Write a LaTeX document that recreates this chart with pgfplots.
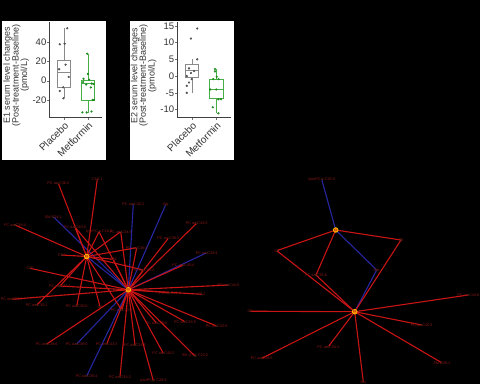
\documentclass[border=0pt]{standalone}
\usepackage{pgfplots}
\pgfplotsset{compat=1.18}
\usepgfplotslibrary{statistics}
\usepackage{fontspec}
\setmainfont{Liberation Sans}
\definecolor{pgrey}{HTML}{505050}
\definecolor{boxgrey}{HTML}{8A8A8A}
\definecolor{mgreen}{HTML}{1E8C1E}
\definecolor{boxgreen}{HTML}{45AE45}
\definecolor{edgered}{HTML}{C81414}
\definecolor{edgeblue}{HTML}{2626A0}
\definecolor{lab}{HTML}{8C1818}
\newcommand{\edge}[5]{\addplot[#1, line width=1.1pt, forget plot] coordinates {(#2,#3) (#4,#5)};}
\pgfplotsset{
  boxax/.style={
    anchor=south west, scale only axis, height=95.5pt,
    xmin=0.4, xmax=2.6,
    axis x line*=bottom, axis y line*=left,
    axis line style={black!75, line width=0.5pt, -},
    xtick={1,2}, xticklabels={Placebo,Metformin},
    tick align=outside, major tick length=2pt,
    tick style={black!55, line width=0.4pt},
    xticklabel style={rotate=45, anchor=north east, font=\fontsize{10}{10}\selectfont, text=black!80, inner sep=1pt},
    yticklabel style={font=\fontsize{9.5}{9.5}\selectfont, text=black!80, inner sep=1pt},
    /pgf/number format/assume math mode=true,
    ylabel style={align=center, font=\fontsize{9}{8.6}\selectfont, text=black!80, at={(axis description cs:-0.63,0.44)}, anchor=center},
    boxplot/draw direction=y,
    clip=false,
  },
  netlab/.style={only marks, mark=*, mark size=0.6pt, draw=none, fill=yellow!60!white,
    nodes near coords, point meta=explicit symbolic,
    nodes near coords style={anchor=center, font=\fontsize{3.8}{3.8}\selectfont, text=lab, inner sep=0pt}},
  hub/.style={only marks, mark=*, mark size=2.4pt, fill=orange, draw=yellow!80!orange, line width=0.5pt,
    nodes near coords, point meta=explicit symbolic,
    nodes near coords style={anchor=center, font=\fontsize{3}{3}\selectfont, text=lab, inner sep=0pt}},
}
\begin{document}
\begin{tikzpicture}
\path[use as bounding box] (0,0) rectangle (480pt,-384pt);
\fill[black] (0,0) rectangle (480pt,-384pt);
\fill[white] (2pt,-21pt) rectangle (106pt,-160pt);
\fill[white] (130pt,-21pt) rectangle (234pt,-160pt);

% ---------- E1 ----------
\begin{axis}[boxax, at={(49.5pt,-117.5pt)}, width=52.8pt,
  ymin=-38.3, ymax=61.1, ytick={-20,0,20,40},
  ylabel={E1 serum level changes\\(Post-treatment-Baseline)\\(pmol/L)}]
\addplot[draw=boxgrey, line width=0.5pt, boxplot prepared={median=8.7, upper quartile=21.2, lower quartile=-6.9, upper whisker=54.6, lower whisker=-18.3, draw position=1, box extend=0.55, whisker extend=0}] coordinates {};
\addplot[draw=boxgreen, line width=0.5pt, boxplot prepared={median=-2.8, upper quartile=0.2, lower quartile=-20, upper whisker=28.1, lower whisker=-33.2, draw position=2, box extend=0.55, whisker extend=0}] coordinates {};
\addplot[only marks, mark=*, mark size=0.9pt, pgrey] coordinates {
(1.14,54.6) (0.83,37.9) (1.03,38.5) (0.80,11.9) (1.07,16.7) (1.20,3.9) (0.97,-6.9) (0.83,-10.7) (0.98,-18.3)};
\addplot[only marks, mark=*, mark size=0.9pt, mgreen] coordinates {
(1.97,28.1) (2.00,7.0) (1.82,2.0) (2.05,1.0) (1.80,-1.5) (2.16,-3.0) (2.24,-3.5) (1.93,-4.0) (2.12,-7.0) (2.20,-20) (2.25,-20) (1.77,-33) (1.95,-33) (2.15,-32)};
\end{axis}

% ---------- E2 ----------
\begin{axis}[boxax, at={(177.3pt,-117.7pt)}, width=53.5pt,
  ymin=-12.41, ymax=16.07, ytick={-10,-5,0,5,10,15},
  ylabel={E2 serum level changes\\(Post-treatment-Baseline)\\(pmol/L)}]
\addplot[draw=boxgrey, line width=0.5pt, boxplot prepared={median=1.6, upper quartile=3.6, lower quartile=-0.2, upper whisker=5.0, lower whisker=-5.0, draw position=1, box extend=0.55, whisker extend=0}] coordinates {};
\addplot[draw=boxgreen, line width=0.5pt, boxplot prepared={median=-4.0, upper quartile=-0.8, lower quartile=-6.6, upper whisker=2.1, lower whisker=-11.1, draw position=2, box extend=0.55, whisker extend=0}] coordinates {};
\addplot[only marks, mark=*, mark size=0.9pt, pgrey] coordinates {
(1.22,14.2) (0.96,11.2) (1.22,5.0) (0.88,2.3) (1.09,1.5) (0.96,0.9) (0.79,0) (0.99,-0.9) (0.88,-1.9) (0.79,-2.9) (0.79,-5.0)};
\addplot[only marks, mark=*, mark size=0.9pt, mgreen] coordinates {
(1.95,2.1) (1.95,1.4) (2.02,-0.2) (1.88,-0.9) (2.10,-0.9) (2.00,-4.0) (1.75,-4.0) (2.09,-6.9) (2.20,-6.9) (1.86,-9.3) (2.09,-11.1)};
\end{axis}

% ---------- networks ----------
\begin{axis}[at={(0pt,0pt)}, anchor=north west, scale only axis, width=480pt, height=384pt,
  xmin=0, xmax=480, ymin=0, ymax=384, y dir=reverse, hide axis, clip=false]
% left network, hub A (86.7,256.5), hub B (128.3,289.8)
\edge{edgeblue}{53.3}{216.7}{128.3}{289.8}
\edge{edgeblue}{133.3}{204}{128.3}{289.8}
\edge{edgeblue}{165.7}{204.7}{128.3}{289.8}
\edge{edgeblue}{206.7}{252.7}{128.3}{289.8}
\edge{edgeblue}{76.7}{344}{128.3}{289.8}
\edge{edgeblue}{86.7}{376}{128.3}{289.8}
\edge{edgeblue}{86.7}{256.5}{128.3}{289.8}
\edge{edgered}{58.3}{183.3}{86.7}{256.5}
\edge{edgered}{97.3}{179.3}{86.7}{256.5}
\edge{edgered}{15}{225}{86.7}{256.5}
\edge{edgered}{75}{227.3}{86.7}{256.5}
\edge{edgered}{75}{227.3}{128.3}{289.8}
\edge{edgered}{99}{231.7}{86.7}{256.5}
\edge{edgered}{99}{231.7}{128.3}{289.8}
\edge{edgered}{120.7}{231.7}{86.7}{256.5}
\edge{edgered}{120.7}{231.7}{128.3}{289.8}
\edge{edgered}{196.7}{223.3}{128.3}{289.8}
\edge{edgered}{168.3}{238.3}{128.3}{289.8}
\edge{edgered}{136.7}{247.7}{86.7}{256.5}
\edge{edgered}{136.7}{247.7}{128.3}{289.8}
\edge{edgered}{183.3}{265}{128.3}{289.8}
\edge{edgered}{113.3}{259.3}{86.7}{256.5}
\edge{edgered}{113.3}{259.3}{128.3}{289.8}
\edge{edgered}{61.7}{255}{86.7}{256.5}
\edge{edgered}{30}{268.3}{128.3}{289.8}
\edge{edgered}{143.3}{270}{86.7}{256.5}
\edge{edgered}{143.3}{270}{128.3}{289.8}
\edge{edgered}{228.3}{285}{128.3}{289.8}
\edge{edgered}{201.7}{294.3}{128.3}{289.8}
\edge{edgered}{170}{292.7}{128.3}{289.8}
\edge{edgered}{60}{286}{86.7}{256.5}
\edge{edgered}{60}{286}{128.3}{289.8}
\edge{edgered}{11.7}{299.3}{128.3}{289.8}
\edge{edgered}{36.7}{305}{86.7}{256.5}
\edge{edgered}{76.7}{306}{86.7}{256.5}
\edge{edgered}{100}{306.7}{86.7}{256.5}
\edge{edgered}{121.7}{310}{86.7}{256.5}
\edge{edgered}{121.7}{310}{128.3}{289.8}
\edge{edgered}{156.7}{323.3}{128.3}{289.8}
\edge{edgered}{185}{321.7}{128.3}{289.8}
\edge{edgered}{216.7}{326}{128.3}{289.8}
\edge{edgered}{46.7}{344}{128.3}{289.8}
\edge{edgered}{106.7}{344}{128.3}{289.8}
\edge{edgered}{135}{345}{128.3}{289.8}
\edge{edgered}{163.3}{353.3}{128.3}{289.8}
\edge{edgered}{195}{356}{128.3}{289.8}
\edge{edgered}{120}{376.7}{128.3}{289.8}
\edge{edgered}{153.3}{380.7}{128.3}{289.8}
% right network, hub C (335.7,230), hub D (354.7,311.7)
\edge{edgeblue}{321.7}{179.3}{335.7}{230}
\edge{edgeblue}{376.7}{270}{335.7}{230}
\edge{edgeblue}{376.7}{270}{354.7}{311.7}
\edge{edgered}{401}{240}{335.7}{230}
\edge{edgered}{401}{240}{354.7}{311.7}
\edge{edgered}{276.7}{250.7}{335.7}{230}
\edge{edgered}{276.7}{250.7}{354.7}{311.7}
\edge{edgered}{316}{275}{335.7}{230}
\edge{edgered}{316}{275}{354.7}{311.7}
\edge{edgered}{468.3}{295}{354.7}{311.7}
\edge{edgered}{250}{311.2}{354.7}{311.7}
\edge{edgered}{421.7}{325}{354.7}{311.7}
\edge{edgered}{328.3}{346.7}{354.7}{311.7}
\edge{edgered}{261.7}{358.3}{354.7}{311.7}
\edge{edgered}{441.7}{362.7}{354.7}{311.7}
\edge{edgered}{363.3}{381.7}{354.7}{311.7}
% leaf nodes with labels
\addplot[netlab] coordinates {
(58.3,183.3) [PC aa C36:2]
(97.3,179.3) [C18:1]
(15,225) [PC ae C38:4]
(53.3,216.7) [SM C24:1]
(75,227.3) [PC aa C40:6]
(99,231.7) [lysoPC a C18:2]
(120.7,231.7) [PC ae C34:3]
(133.3,204) [PC aa C32:1]
(165.7,204.7) [Gly]
(196.7,223.3) [PC ae C42:5]
(168.3,238.3) [PC aa C38:3]
(136.7,247.7) [PC ae C36:4]
(206.7,252.7) [PC aa C34:4]
(183.3,265) [PC ae C40:4]
(113.3,259.3) [C16]
(61.7,255) [C14]
(30,268.3) [C10]
(143.3,270) [PC ae C38:2]
(228.3,285) [PC ae C44:5]
(201.7,294.3) [C12]
(170,292.7) [PC aa C42:2]
(60,286) [PC aa C36:1]
(11.7,299.3) [PC ae C32:2]
(36.7,305) [PC ae C30:1]
(76.7,306) [PC aa C30:0]
(100,306.7) [C8]
(121.7,310) [PC ae C40:6]
(156.7,323.3) [PC aa C38:6]
(185,321.7) [PC ae C36:5]
(216.7,326) [PC aa C42:6]
(46.7,344) [PC ae C38:6]
(76.7,344) [PC aa C38:0]
(106.7,344) [PC ae C42:3]
(135,345) [PC ae C38:5]
(163.3,353.3) [PC aa C40:2]
(195,356) [SM (OH) C22:2]
(86.7,376) [PC aa C36:4]
(120,376.7) [PC ae C34:2]
(153.3,380.7) [lysoPC a C20:4]
(321.7,179.3) [lysoPC a C20:3]
(401,240) [C5]
(276.7,250.7) [C3]
(316,275) [PC aa C36:6]
(376.7,270) [Ser]
(468.3,295) [PC ae C44:6]
(250,311.2) [C2]
(421.7,325) [PC aa C40:3]
(328.3,346.7) [PC ae C34:1]
(261.7,358.3) [PC aa C38:5]
(441.7,362.7) [SM C26:1]
(363.3,381.7) [His]
};
\addplot[hub] coordinates {(86.7,256.5) [E1] (128.3,289.8) [E2] (335.7,230) [E1] (354.7,311.7) [E2]};
\end{axis}
\end{tikzpicture}
\end{document}
